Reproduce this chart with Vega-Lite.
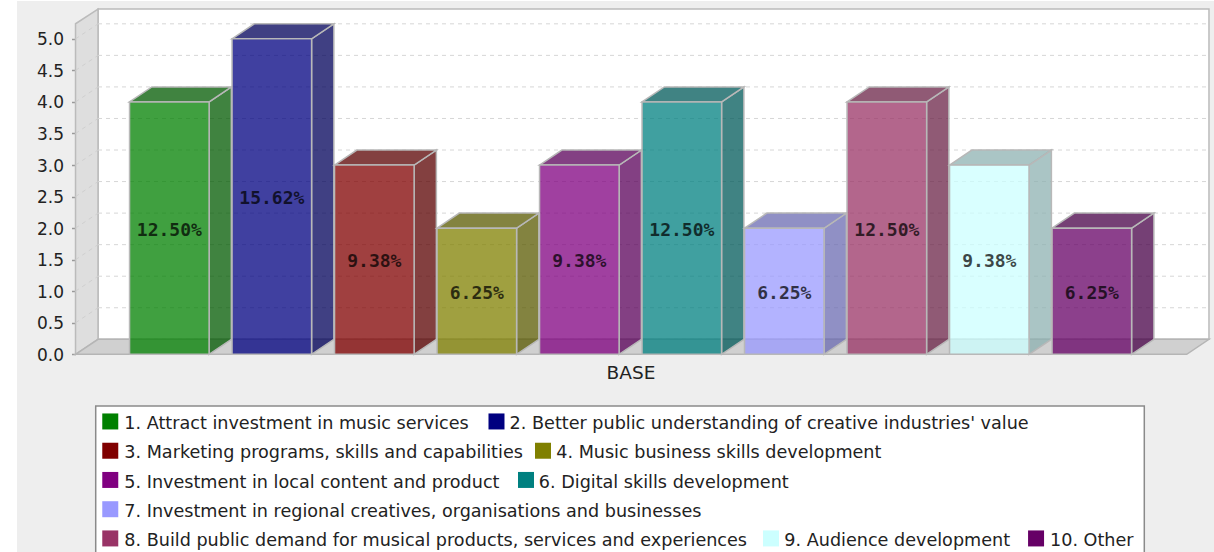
{
"$schema":"https://vega.github.io/schema/vega-lite/v6.json",
"width":1197,"height":551,
"autosize":{"type":"none"},
"padding":{"left":17,"top":1,"right":0,"bottom":0},
"background":"white",
"view":{"fill":"#eeeeee","stroke":null},
"config":{"font":"DejaVu Sans"},
"datasets":{
"bars":[
{"name":"1. Attract investment in music services","value":4,"pct":"12.50%","slot":1},
{"name":"2. Better public understanding of creative industries' value","value":5,"pct":"15.62%","slot":2},
{"name":"3. Marketing programs, skills and capabilities","value":3,"pct":"9.38%","slot":3},
{"name":"4. Music business skills development","value":2,"pct":"6.25%","slot":4},
{"name":"5. Investment in local content and product","value":3,"pct":"9.38%","slot":5},
{"name":"6. Digital skills development","value":4,"pct":"12.50%","slot":6},
{"name":"7. Investment in regional creatives, organisations and businesses","value":2,"pct":"6.25%","slot":7},
{"name":"8. Build public demand for musical products, services and experiences","value":4,"pct":"12.50%","slot":8},
{"name":"9. Audience development","value":3,"pct":"9.38%","slot":9},
{"name":"10. Other","value":2,"pct":"6.25%","slot":10}
],
"legend":[
{"name":"1. Attract investment in music services","sx":0.424,"tx":0.561,"ly":-1.089},
{"name":"2. Better public understanding of creative industries' value","sx":4.192,"tx":4.32,"ly":-1.089},
{"name":"3. Marketing programs, skills and capabilities","sx":0.424,"tx":0.561,"ly":-1.553},
{"name":"4. Music business skills development","sx":4.646,"tx":4.775,"ly":-1.553},
{"name":"5. Investment in local content and product","sx":0.424,"tx":0.561,"ly":-2.016},
{"name":"6. Digital skills development","sx":4.48,"tx":4.605,"ly":-2.016},
{"name":"7. Investment in regional creatives, organisations and businesses","sx":0.424,"tx":0.561,"ly":-2.48},
{"name":"8. Build public demand for musical products, services and experiences","sx":0.424,"tx":0.561,"ly":-2.943},
{"name":"9. Audience development","sx":6.87,"tx":7.0,"ly":-2.943},
{"name":"10. Other","sx":9.456,"tx":9.592,"ly":-2.943}
],
"grid":[{"v":0},{"v":0.5},{"v":1},{"v":1.5},{"v":2},{"v":2.5},{"v":3},{"v":3.5},{"v":4},{"v":4.5},{"v":5}]
},
"encoding":{
"x":{"field":"x","type":"quantitative","scale":{"domain":[-0.4859,11.192],"nice":false,"zero":false},"axis":null},
"y":{"field":"y","type":"quantitative","stack":null,"scale":{"domain":[-3.133,5.6],"nice":false,"zero":false},
"axis":{"title":null,"values":[0,0.5,1,1.5,2,2.5,3,3.5,4,4.5,5],"format":".1f","offset":-58.5,"domain":false,"grid":false,"ticks":true,"tickColor":"#999999","tickWidth":1.5,"tickSize":4,"labelPadding":8,"labelFontSize":17,"labelOffset":1,"labelColor":"#222222","labelFont":"DejaVu Sans"}}
},
"resolve":{"scale":{"color":"independent"}},
"layer":[
{"data":{"values":[{"x":0.3044,"x2":11.143,"y":0.238,"y2":5.472}]},
 "mark":{"type":"rect","fill":"white","stroke":"#bbbbbb","strokeWidth":1.5},
 "encoding":{"x2":{"field":"x2"},"y2":{"field":"y2"}}},
{"data":{"values":[{"x":0.0849,"y":0,"y2":5.239},{"x":0.3044,"y":0.238,"y2":5.472}]},
 "mark":{"type":"area","orient":"vertical","fill":"#dedede","stroke":"#bbbbbb","strokeWidth":1.5},
 "encoding":{"y2":{"field":"y2"}}},
{"data":{"name":"grid"},
 "transform":[{"calculate":"0.3044","as":"x"},{"calculate":"11.143","as":"x2"},{"calculate":"datum.v+0.238","as":"y"}],
 "mark":{"type":"rule","stroke":"#d6d6d6","strokeWidth":1,"strokeDash":[4,4]},
 "encoding":{"x2":{"field":"x2"}}},
{"data":{"name":"grid"},
 "transform":[{"calculate":"0.0849","as":"x"},{"calculate":"0.3044","as":"x2"},{"calculate":"datum.v","as":"y"},{"calculate":"datum.v+0.238","as":"y2"}],
 "mark":{"type":"rule","stroke":"#cfcfcf","strokeWidth":1,"strokeDash":[4,4]},
 "encoding":{"x2":{"field":"x2"},"y2":{"field":"y2"}}},
{"data":{"values":[{"x":0.0849,"y":0,"y2":0},{"x":0.3044,"y":0.238,"y2":0},{"x":10.926,"y":0.238,"y2":0},{"x":11.143,"y":0.238,"y2":0.238}]},
 "mark":{"type":"area","orient":"vertical","fill":"#d0d0d0","stroke":"#b5b5b5","strokeWidth":1.5},
 "encoding":{"y2":{"field":"y2"}}},
{"data":{"name":"bars"},
 "transform":[{"calculate":"[0,1]","as":"corner"},{"flatten":["corner"]},
  {"calculate":"datum.slot+0.388+datum.corner*0.2176","as":"x"},
  {"calculate":"datum.value+datum.corner*0.238","as":"y"},
  {"calculate":"datum.corner*0.238","as":"y2"}],
 "mark":{"type":"area","orient":"vertical","fillOpacity":0.75,"stroke":"#b8b8b8","strokeWidth":1.5},
 "encoding":{"y2":{"field":"y2"},"detail":{"field":"name"},
  "color":{"field":"name","type":"nominal","legend":null,"scale":{"domain":["1. Attract investment in music services","2. Better public understanding of creative industries' value","3. Marketing programs, skills and capabilities","4. Music business skills development","5. Investment in local content and product","6. Digital skills development","7. Investment in regional creatives, organisations and businesses","8. Build public demand for musical products, services and experiences","9. Audience development","10. Other"],"range":["#005900","#000059","#590000","#595900","#590059","#005959","#6b6bb2","#6b2347","#8eb2b2","#470047"]}}}},
{"data":{"name":"bars"},
 "transform":[{"calculate":"[0,1,2,3]","as":"corner"},{"flatten":["corner"]},
  {"calculate":"datum.slot-0.388+[0,0.2176,0.776,0.9936][datum.corner]","as":"x"},
  {"calculate":"datum.value+[0,0.238,0.238,0.238][datum.corner]","as":"y"},
  {"calculate":"datum.value+[0,0,0,0.238][datum.corner]","as":"y2"}],
 "mark":{"type":"area","orient":"vertical","fillOpacity":0.75,"stroke":"#b8b8b8","strokeWidth":1.5},
 "encoding":{"y2":{"field":"y2"},"detail":{"field":"name"},
  "color":{"field":"name","type":"nominal","legend":null,"scale":{"domain":["1. Attract investment in music services","2. Better public understanding of creative industries' value","3. Marketing programs, skills and capabilities","4. Music business skills development","5. Investment in local content and product","6. Digital skills development","7. Investment in regional creatives, organisations and businesses","8. Build public demand for musical products, services and experiences","9. Audience development","10. Other"],"range":["#005900","#000059","#590000","#595900","#590059","#005959","#6b6bb2","#6b2347","#8eb2b2","#470047"]}}}},
{"data":{"name":"bars"},
 "transform":[{"calculate":"datum.slot-0.388","as":"x"},{"calculate":"datum.slot+0.388","as":"x2"},{"calculate":"datum.value","as":"y"},{"calculate":"0","as":"y2"}],
 "mark":{"type":"rect","fillOpacity":0.75,"stroke":"#b8b8b8","strokeWidth":1.5},
 "encoding":{"x2":{"field":"x2"},"y2":{"field":"y2"},
  "color":{"field":"name","type":"nominal","legend":null,"scale":{"domain":["1. Attract investment in music services","2. Better public understanding of creative industries' value","3. Marketing programs, skills and capabilities","4. Music business skills development","5. Investment in local content and product","6. Digital skills development","7. Investment in regional creatives, organisations and businesses","8. Build public demand for musical products, services and experiences","9. Audience development","10. Other"],"range":["#008000","#000080","#800000","#808000","#800080","#008080","#9999ff","#993366","#ccffff","#660066"]}}}},
{"data":{"name":"bars"},
 "transform":[{"calculate":"datum.slot","as":"x"},{"calculate":"datum.value/2","as":"y"}],
 "mark":{"type":"text","font":"DejaVu Sans Mono","fontWeight":"bold","fontSize":18,"fill":"#000000","opacity":0.72,"baseline":"middle","align":"center","dy":2.5},
 "encoding":{"text":{"field":"pct"}}},
{"data":{"values":[{"label":"BASE","x":5.504,"y":-0.296}]},
 "mark":{"type":"text","fontSize":18.5,"fill":"#222222","baseline":"middle","align":"center"},
 "encoding":{"text":{"field":"label"}}},
{"data":{"values":[{"x":0.282,"x2":10.512,"y":-0.819,"y2":-3.3}]},
 "mark":{"type":"rect","fill":"white","stroke":"#8a8a8a","strokeWidth":1.5},
 "encoding":{"x2":{"field":"x2"},"y2":{"field":"y2"}}},
{"data":{"name":"legend"},
 "transform":[{"calculate":"datum.sx","as":"x"},{"calculate":"datum.ly+0.025","as":"y"}],
 "mark":{"type":"point","shape":"square","filled":true,"size":256,"opacity":1},
 "encoding":{"color":{"field":"name","type":"nominal","legend":null,"scale":{"domain":["1. Attract investment in music services","2. Better public understanding of creative industries' value","3. Marketing programs, skills and capabilities","4. Music business skills development","5. Investment in local content and product","6. Digital skills development","7. Investment in regional creatives, organisations and businesses","8. Build public demand for musical products, services and experiences","9. Audience development","10. Other"],"range":["#008000","#000080","#800000","#808000","#800080","#008080","#9999ff","#993366","#ccffff","#660066"]}}}},
{"data":{"name":"legend"},
 "transform":[{"calculate":"datum.tx","as":"x"},{"calculate":"datum.ly","as":"y"}],
 "mark":{"type":"text","fontSize":17.6,"fill":"#222222","baseline":"middle","align":"left","dy":1},
 "encoding":{"text":{"field":"name"}}}
]
}
